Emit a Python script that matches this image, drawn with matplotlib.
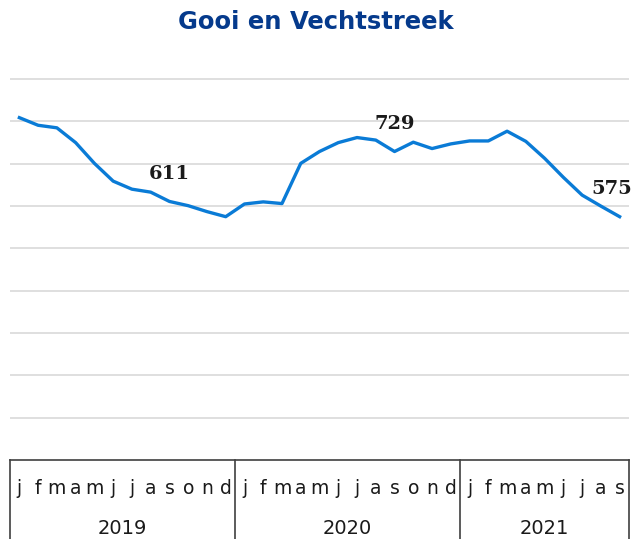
import matplotlib
matplotlib.use('Agg')
import matplotlib.pyplot as plt
import matplotlib.transforms as tr
from matplotlib.lines import Line2D

# --- Data: Jan 2019 .. Sep 2021 --- #
months = ['j', 'f', 'm', 'a', 'm', 'j', 'j', 'a', 's', 'o', 'n', 'd']
years = ['2019', '2020', '2021']
months_per_year = [12, 12, 9]
values = [809, 791, 785, 750, 701, 659, 640, 633, 611, 601, 587, 575,
          605, 610, 606, 701, 729, 750, 762, 756, 729, 751, 736, 747,
          754, 754, 777, 753, 713, 668, 626, 600, 575]
labelled = [8, 20, 32]  # september every year

W, H = 632, 539
fig = plt.figure(figsize=(W / 100, H / 100), dpi=100)
ax = fig.add_axes([10 / W, 79 / H, 619 / W, 402 / H])

x = list(range(len(values)))
ax.plot(x, values, color='#0A7BD6', linewidth=2.4, solid_joinstyle='round', zorder=3)
ax.set_xlim(-0.5, len(values) - 0.5)
ax.set_ylim(0, 950)
ax.set_yticks(range(100, 1000, 100))
ax.set_xticks([])
ax.tick_params(left=False, labelleft=False)
ax.grid(axis='y', color='#d9d9d9', linewidth=1.2, zorder=0)
for s in ax.spines.values():
    s.set_visible(False)

# datalabels
for i in labelled:
    dx = -6 if i == len(values) - 1 else 0
    ax.annotate(str(values[i]), (i, values[i]), xytext=(dx, 20), textcoords='offset points',
                ha='center', va='center', fontsize=14, fontweight='bold',
                family='DejaVu Serif', color='#1a1a1a', annotation_clip=False)

# --- Table-like x axis --- #
bt = tr.blended_transform_factory(ax.transData, fig.transFigure)
top = 79 / H
fig.add_artist(Line2D([-0.5, len(values) - 0.5], [top, top], transform=bt, color='#404040', lw=1.2))
pos = -0.5
edges = [pos]
for y, n in zip(years, months_per_year):
    for k in range(n):
        fig.text(pos + 0.5 + k, (539 - 489) / H, months[k], transform=bt, ha='center', va='center',
                 fontsize=13.5, color='#1a1a1a')
    fig.text(pos + n / 2, (539 - 529) / H, y, transform=bt, ha='center', va='center',
             fontsize=14, color='#1a1a1a')
    pos += n
    edges.append(pos)
for e in edges:
    fig.add_artist(Line2D([e, e], [0, top], transform=bt, color='#404040', lw=1.2))

fig.text(0.5, 1 - 22 / H, 'Gooi en Vechtstreek', ha='center', va='center', fontsize=17.5,
         fontweight='bold', color='#053A8C')

fig.savefig('out.png', dpi=100)
